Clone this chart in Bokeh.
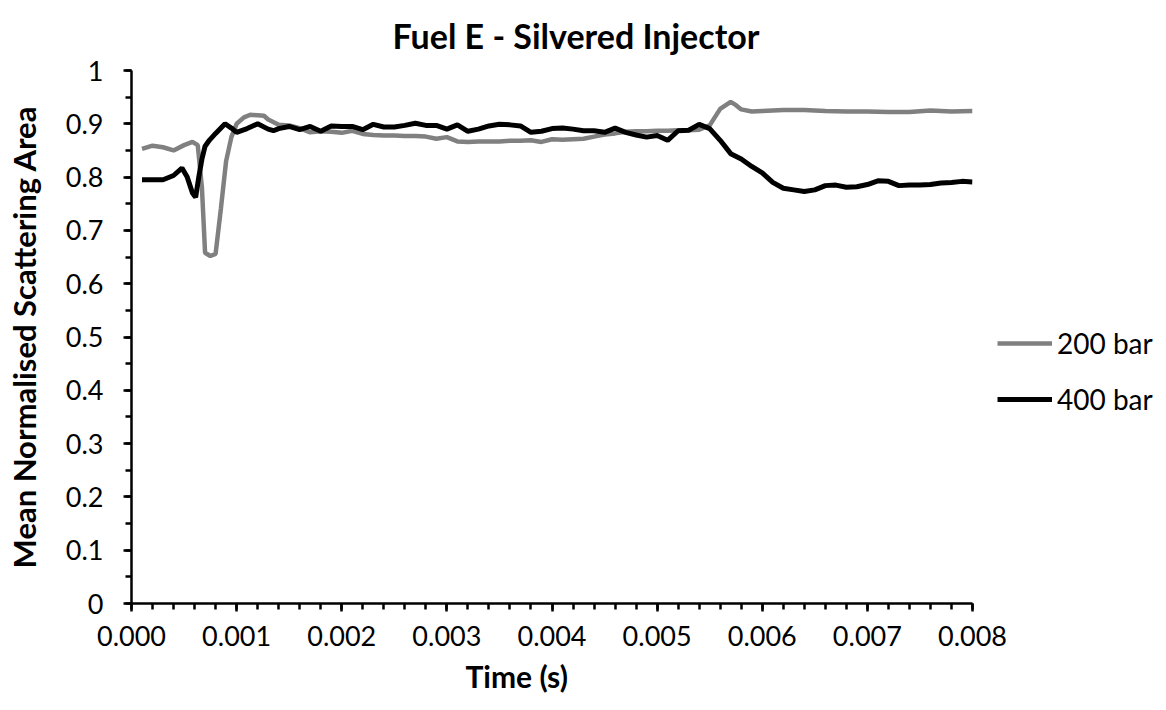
from bokeh.plotting import figure
from bokeh.models import Range1d, FixedTicker, NumeralTickFormatter, Legend, LegendItem, Title
from bokeh.embed import file_html
from bokeh.resources import INLINE

time_200 = [0.0001, 0.0002, 0.0003, 0.0004, 0.0005, 0.00058, 0.00063, 0.00067, 0.0007, 0.00075,
            0.0008, 0.00085, 0.0009, 0.00095, 0.001, 0.00107, 0.00113, 0.0012, 0.00126, 0.0013,
            0.0014, 0.0015, 0.0016, 0.0017, 0.0018, 0.0019, 0.002, 0.0021, 0.0022, 0.0023,
            0.0024, 0.0025, 0.0026, 0.0027, 0.0028, 0.0029, 0.003, 0.0031, 0.0032, 0.0033,
            0.0034, 0.0035, 0.0036, 0.0037, 0.0038, 0.0039, 0.004, 0.0041, 0.0042, 0.0043,
            0.0044, 0.0045, 0.0046, 0.0047, 0.0048, 0.0049, 0.005, 0.0051, 0.0052, 0.0053,
            0.0054, 0.0055, 0.0056, 0.0057, 0.00575, 0.0058, 0.0059, 0.006, 0.0062, 0.0064,
            0.0066, 0.0068, 0.007, 0.0072, 0.0074, 0.0076, 0.0078, 0.008]
area_200 = [0.853, 0.859, 0.856, 0.850, 0.860, 0.866, 0.860, 0.780, 0.658, 0.652,
            0.656, 0.740, 0.830, 0.875, 0.900, 0.912, 0.917, 0.916, 0.915, 0.908,
            0.898, 0.897, 0.892, 0.884, 0.886, 0.885, 0.883, 0.887, 0.881, 0.879,
            0.878, 0.878, 0.877, 0.877, 0.876, 0.872, 0.875, 0.867, 0.866, 0.867,
            0.867, 0.867, 0.868, 0.868, 0.869, 0.866, 0.871, 0.870, 0.871, 0.872,
            0.876, 0.880, 0.882, 0.885, 0.886, 0.886, 0.887, 0.887, 0.888, 0.888,
            0.889, 0.897, 0.928, 0.941, 0.935, 0.927, 0.923, 0.924, 0.926, 0.926,
            0.924, 0.923, 0.923, 0.922, 0.922, 0.925, 0.923, 0.924]

time_400 = [0.0001, 0.0002, 0.0003, 0.0004, 0.00048, 0.00053, 0.00058, 0.00061, 0.00064, 0.00067,
            0.0007, 0.00074, 0.0008, 0.00089, 0.00095, 0.001, 0.0011, 0.0012, 0.0013, 0.00135,
            0.0014, 0.0015, 0.0016, 0.0017, 0.0018, 0.0019, 0.002, 0.0021, 0.0022, 0.0023,
            0.0024, 0.0025, 0.0026, 0.0027, 0.0028, 0.0029, 0.003, 0.0031, 0.0032, 0.0033,
            0.0034, 0.0035, 0.0036, 0.0037, 0.0038, 0.0039, 0.004, 0.0041, 0.0042, 0.0043,
            0.0044, 0.0045, 0.0046, 0.0047, 0.0048, 0.0049, 0.005, 0.0051, 0.0052, 0.0053,
            0.0054, 0.0055, 0.0056, 0.0057, 0.0058, 0.0059, 0.006, 0.0061, 0.0062, 0.0063,
            0.0064, 0.0065, 0.0066, 0.0067, 0.0068, 0.0069, 0.007, 0.0071, 0.0072, 0.0073,
            0.0074, 0.0075, 0.0076, 0.0077, 0.0078, 0.0079, 0.008]
area_400 = [0.795, 0.795, 0.795, 0.803, 0.817, 0.800, 0.770, 0.762, 0.800, 0.834,
            0.858, 0.869, 0.882, 0.900, 0.892, 0.884, 0.891, 0.900, 0.890, 0.887,
            0.891, 0.895, 0.889, 0.895, 0.886, 0.896, 0.895, 0.895, 0.889, 0.899,
            0.894, 0.894, 0.897, 0.901, 0.897, 0.897, 0.890, 0.898, 0.886, 0.890,
            0.896, 0.899, 0.898, 0.896, 0.884, 0.886, 0.891, 0.892, 0.890, 0.887,
            0.887, 0.884, 0.892, 0.884, 0.879, 0.875, 0.878, 0.869, 0.887, 0.888,
            0.899, 0.891, 0.869, 0.844, 0.834, 0.820, 0.808, 0.790, 0.779, 0.776,
            0.773, 0.776, 0.784, 0.785, 0.781, 0.782, 0.786, 0.793, 0.792, 0.784,
            0.785, 0.785, 0.786, 0.789, 0.790, 0.792, 0.791]

x_ticks = [0.000, 0.001, 0.002, 0.003, 0.004, 0.005, 0.006, 0.007, 0.008]
y_ticks = [0, 0.1, 0.2, 0.3, 0.4, 0.5, 0.6, 0.7, 0.8, 0.9, 1.0]
series_names = ["200 bar", "400 bar"]
series_colors = ["#808080", "#000000"]

FONT = "Lato"

p = figure(frame_width=841, frame_height=533, output_backend="svg", toolbar_location=None,
           x_range=Range1d(0, 0.008), y_range=Range1d(0, 1),
           min_border_left=131, min_border_right=194, min_border_top=70, min_border_bottom=107,
           title="Fuel E - Silvered Injector")
p.outline_line_color = None
p.grid.grid_line_color = None
p.background_fill_color = "white"
p.border_fill_color = "white"

p.title.align = "left"
p.title.offset = 261
p.title.vertical_align = "top"
p.title.text_font = FONT
p.title.text_font_size = "34px"
p.title.text_font_style = "bold"
p.title.text_color = "black"
p.title.standoff = 25

r1 = p.line(time_200, area_200, line_color=series_colors[0], line_width=4.5)
r2 = p.line(time_400, area_400, line_color=series_colors[1], line_width=5)

minor_x = [i * 0.0002 for i in range(41)]
minor_y = [i * 0.05 for i in range(21)]
p.xaxis.ticker = FixedTicker(ticks=x_ticks, minor_ticks=minor_x)
p.yaxis.ticker = FixedTicker(ticks=y_ticks, minor_ticks=minor_y)
p.xaxis.formatter = NumeralTickFormatter(format="0.000")
p.yaxis.formatter = NumeralTickFormatter(format="0.[0]")

for ax in (p.xaxis[0], p.yaxis[0]):
    ax.axis_line_width = 2.5
    ax.axis_line_color = "black"
    ax.major_tick_line_width = 2.5
    ax.minor_tick_line_width = 2.5
    ax.major_tick_line_color = "black"
    ax.minor_tick_line_color = "black"
    ax.major_tick_in = 0
    ax.major_tick_out = 8
    ax.minor_tick_in = 0
    ax.minor_tick_out = 6
    ax.major_label_text_font = FONT
    ax.major_label_text_font_size = "27px"
    ax.major_label_text_color = "black"
    ax.axis_label_text_font = FONT
    ax.axis_label_text_font_size = "31px"
    ax.axis_label_text_font_style = "bold"
    ax.axis_label_text_color = "black"

p.yaxis.axis_label = "Mean Normalised Scattering Area"
p.xaxis.major_label_standoff = 14
p.yaxis.major_label_standoff = 20
p.yaxis.axis_label_standoff = 20

xlabel = Title(text="Time (s)", align="left", offset=334, vertical_align="bottom",
               text_font=FONT, text_font_size="30px", text_font_style="bold",
               text_color="black", standoff=14)
p.add_layout(xlabel, "below")

legend = Legend(items=[LegendItem(label=series_names[0], renderers=[r1]),
                       LegendItem(label=series_names[1], renderers=[r2])],
                location=(25, 187), orientation="vertical")
legend.glyph_width = 55
legend.glyph_height = 34
legend.label_standoff = 5
legend.spacing = 22
legend.padding = 0
legend.margin = 0
legend.border_line_color = None
legend.background_fill_alpha = 0
legend.label_text_font = FONT
legend.label_text_font_size = "28px"
legend.label_text_color = "black"
p.add_layout(legend, "right")

open("out.html", "w").write(file_html(p, INLINE))
